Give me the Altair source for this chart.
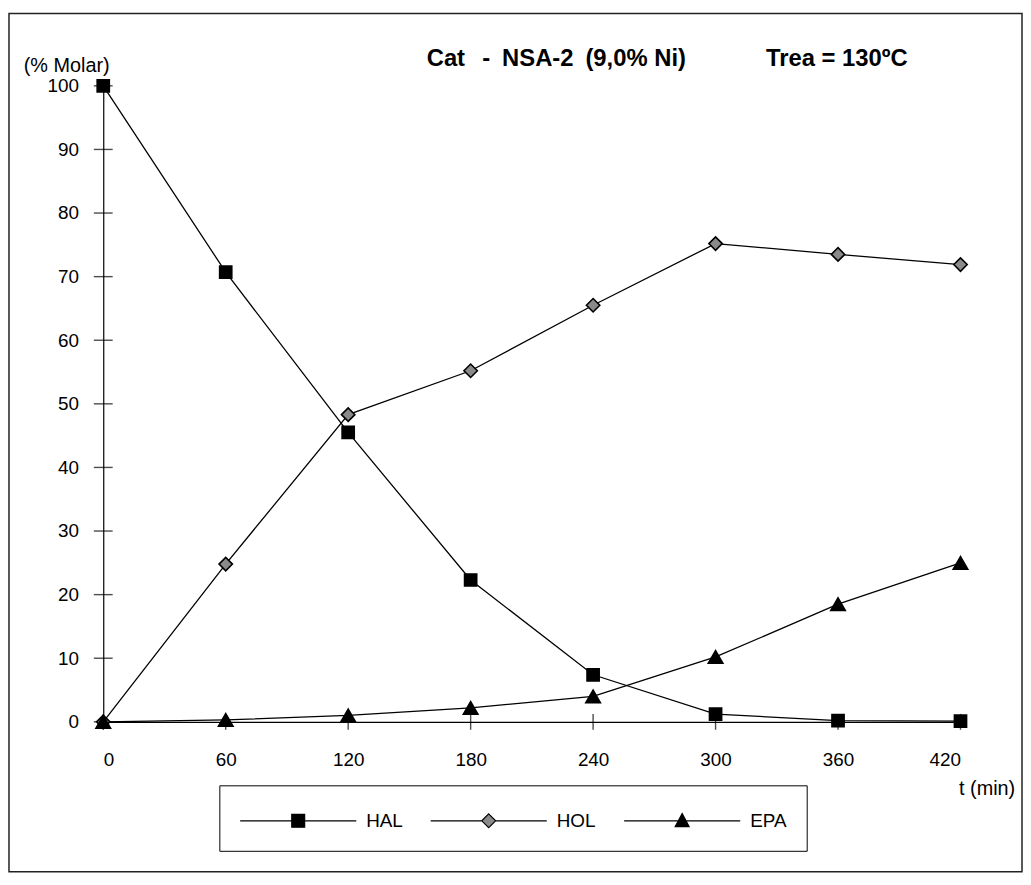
import altair as alt
import pandas as pd

# ---- data ----
t_values = [0, 60, 120, 180, 240, 300, 360, 420]
hal = [100, 70.7, 45.5, 22.3, 7.4, 1.2, 0.2, 0.1]
hol = [0, 24.8, 48.3, 55.2, 65.5, 75.2, 73.5, 71.9]
epa = [0, 0.3, 1.0, 2.2, 4.0, 10.2, 18.5, 25.0]
series_names = ["HAL", "HOL", "EPA"]
x_ticks = [0, 60, 120, 180, 240, 300, 360, 420]
y_ticks = [0, 10, 20, 30, 40, 50, 60, 70, 80, 90, 100]
title_parts = ["Cat", "-", "NSA-2", "(9,0% Ni)", "Trea = 130ºC"]

rows = []
for name, vals in zip(series_names, [hal, hol, epa]):
    for t, v in zip(t_values, vals):
        rows.append({"serie": name, "t": t, "v": v})
df = pd.DataFrame(rows)

FONT = "Liberation Sans"
W, H = 864, 641
PAD = {"left": 96, "top": 75, "right": 63, "bottom": 161}

xscale = alt.Scale(domain=[0, 420], nice=False, zero=False)
yscale = alt.Scale(domain=[0, 100], nice=False)

x_axis = alt.Axis(values=x_ticks, ticks=False, grid=False, labelPadding=29,
                  labelFontSize=19, labelFont=FONT, labelColor="black",
                  domainColor="black", domainWidth=1.2,
                  title="t (min)", titleAngle=0, titleX=862, titleY=67,
                  titleAlign="left", titleBaseline="middle", titleFont=FONT,
                  titleFontSize=20, titleFontWeight="normal", titleColor="black")
y_axis = alt.Axis(values=y_ticks, ticks=False, grid=False, labelPadding=25,
                  labelFontSize=19, labelFont=FONT, labelColor="black",
                  domainColor="black", domainWidth=1.2,
                  title="(% Molar)", titleAngle=0, titleX=6, titleY=-20,
                  titleAlign="right", titleBaseline="middle", titleFont=FONT,
                  titleFontSize=20, titleFontWeight="normal", titleColor="black")

one = pd.DataFrame({"k": [0]})

frame = alt.Chart(one).mark_rect(fill=None, stroke="#222", strokeWidth=1.5).encode(
    x=alt.value(-95), x2=alt.value(926), y=alt.value(-73), y2=alt.value(792))

lines = alt.Chart(df).mark_line(color="black", strokeWidth=1.3).encode(
    x=alt.X("t:Q", scale=xscale, axis=x_axis),
    y=alt.Y("v:Q", scale=yscale, axis=y_axis),
    detail="serie:N")

ytick = alt.Chart(pd.DataFrame({"yt": y_ticks})).mark_tick(
    orient="horizontal", size=19, thickness=1.4, color="black").encode(
    y=alt.Y("yt:Q", scale=yscale), x=alt.datum(0))
xtick = alt.Chart(pd.DataFrame({"xt": x_ticks})).mark_tick(
    orient="vertical", size=16, thickness=1.4, color="black").encode(
    x=alt.X("xt:Q", scale=xscale), y=alt.datum(0))

points = alt.Chart(df).mark_point(filled=True, stroke="black", strokeWidth=1.6, opacity=1).encode(
    x=alt.X("t:Q", scale=xscale),
    y=alt.Y("v:Q", scale=yscale),
    shape=alt.Shape("serie:N", scale=alt.Scale(domain=series_names,
                    range=["square", "diamond", "triangle-up"]), legend=None),
    fill=alt.Fill("serie:N", scale=alt.Scale(domain=series_names,
                  range=["black", "#8a8a8a", "black"]), legend=None),
    size=alt.Size("serie:N", scale=alt.Scale(domain=series_names,
                  range=[150, 215, 170]), legend=None))

# legend symbols: line segment with the marker in the middle (units of 14.5 px)
leg_paths = [
    "M-1,0H7.07M2.586,-0.448H3.482V0.448H2.586Z",
    "M-1,0H2.551M3.517,0H7.07M3.034,-0.483L3.517,0L3.034,0.483L2.551,0Z",
    "M-1,0H7.07M3.034,-0.5L3.517,0.4L2.551,0.4Z",
]
leg = alt.Legend(orient="none", legendX=117, legendY=705, direction="horizontal",
                 columns=3, title=None, symbolSize=841, symbolStrokeWidth=1.2,
                 symbolStrokeColor="black", labelFontSize=19, labelFont=FONT,
                 labelColor="black", labelOffset=97, columnPadding=25,
                 strokeColor="black", fillColor="white", padding=20)
legend_layer = alt.Chart(df).transform_filter("false").mark_point(
    filled=True, strokeWidth=1.2, opacity=1).encode(
    shape=alt.Shape("serie:N", scale=alt.Scale(domain=series_names, range=leg_paths),
                    legend=leg, title=None),
    fill=alt.Fill("serie:N", scale=alt.Scale(domain=series_names,
                  range=["black", "#8a8a8a", "black"]), legend=leg, title=None),
    stroke=alt.Stroke("serie:N", scale=alt.Scale(domain=series_names,
                      range=["black", "black", "black"]), legend=leg, title=None))

# header texts, placed piece by piece (left edges in plot pixels)
title_x = [326, 382, 402, 486, 668]
title_layers = [
    alt.Chart(one).mark_text(text=txt, font=FONT, fontSize=24, fontWeight="bold",
                             align="left", baseline="middle", color="black").encode(
        x=alt.value(px), y=alt.value(-27))
    for txt, px in zip(title_parts, title_x)
]

chart = alt.layer(frame, lines, ytick, xtick, points, legend_layer, *title_layers).resolve_scale(
    shape="independent", fill="independent", size="independent", stroke="independent"
).properties(
    width=W, height=H, padding=PAD, autosize="none", background="white"
).configure_view(stroke=None)

chart.save("out.html", embed_options={"renderer": "svg", "actions": False})
